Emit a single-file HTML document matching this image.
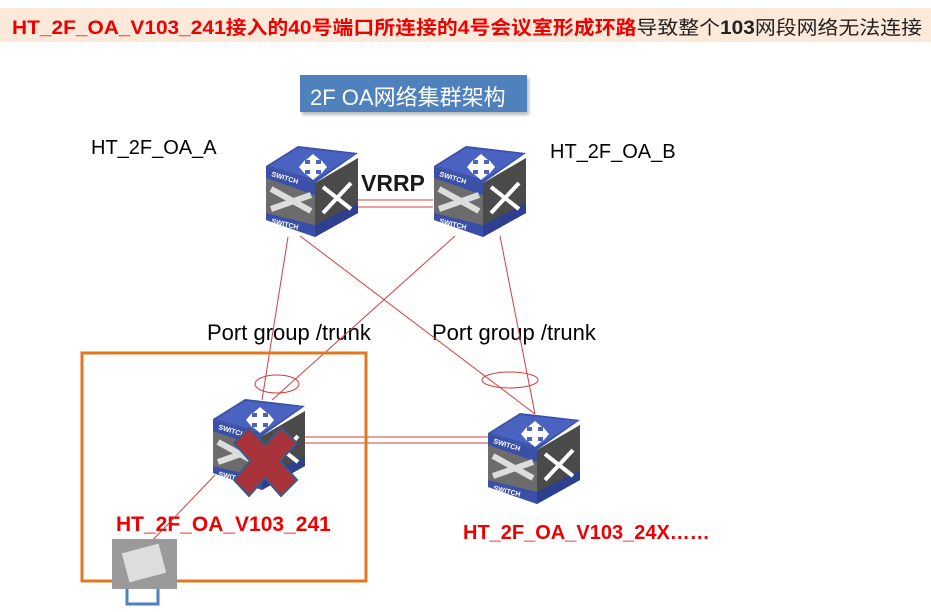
<!DOCTYPE html>
<html><head><meta charset="utf-8"><style>
body{margin:0;width:931px;height:612px;background:#fff;overflow:hidden;position:relative;font-family:"Liberation Sans","Noto Sans CJK SC",sans-serif}
.hdr{position:absolute;left:0;top:8px;width:931px;height:34px;background:#fde9d9}
#ht{position:absolute;left:12px;top:5px;font-size:19px;font-weight:bold;white-space:nowrap;transform-origin:0 0}
.t{position:absolute;white-space:nowrap}
</style></head><body>
<div class="hdr"><div id="ht"><span style="color:#e00">HT_2F_OA_V103_241接入的40号端口所连接的4号会议室形成环路</span><span style="color:#222;font-weight:normal">导致整个<b>103</b>网段网络无法连接</span></div></div>
<script>var e=document.getElementById('ht');var w=e.getBoundingClientRect().width;e.style.transform='scaleX('+(910/w)+')';</script>
<div style="position:absolute;left:300px;top:75px;width:227px;height:37px;background:#4f81bd;box-shadow:2px 3px 3px #bbb"></div>
<div class="t" style="left:310px;top:80px;color:#fff;font-size:22px">2F OA网络集群架构</div>
<div class="t" style="left:91px;top:137px;font-size:20px">HT_2F_OA_A</div>
<div class="t" style="left:550px;top:141px;font-size:20px">HT_2F_OA_B</div>
<div class="t" style="left:207px;top:320px;font-size:22px">Port group /trunk</div>
<div class="t" style="left:432px;top:320px;font-size:22px">Port group /trunk</div>
<div class="t" style="left:116px;top:513px;font-size:21px;font-weight:bold;color:#e00">HT_2F_OA_V103_241</div>
<div class="t" style="left:463px;top:522px;font-size:20px;font-weight:bold;color:#e00">HT_2F_OA_V103_24X……</div>
<svg width="931" height="612" style="position:absolute;left:0;top:0">
<defs>
<g id="sw">
<polygon points="1,21 33,1 93,8 50,38" fill="#3a4fa8"/>
<polygon points="4,21 33,3 90,9 50,35" fill="#4a63c0"/>
<path d="M48,9 l7,6 h-4 v4 h5 v-4 l6,7 -6,7 v-4 h-5 v4 h4 l-7,6 -7,-6 h4 v-4 h-5 v4 l-6,-7 6,-7 v4 h5 v-4 h-4z" fill="#fff"/>
<polygon points="1,21 50,38 50,92 1,75" fill="#6c6c6c"/>
<polygon points="1,21 50,38 50,50 1,33" fill="#3a4fa8"/>
<polygon points="1,68 50,80 50,92 1,75" fill="#3a4fa8"/>
<text x="6" y="31" font-size="7" font-weight="bold" fill="#fff" transform="rotate(17 6 31)">SWITCH</text>
<text x="6" y="78" font-size="7" font-weight="bold" fill="#fff" transform="rotate(14 6 78)">SWITCH</text>
<path d="M6,44 L46,66 M6,64 L46,50" stroke="#ddd" stroke-width="6"/>
<polygon points="50,38 93,13 93,68 50,92" fill="#4a4a4a"/>
<polygon points="50,80 93,58 93,68 50,92" fill="#2e3f90"/>
<path d="M58,68 L86,38 M58,42 L86,64" stroke="#fff" stroke-width="4"/>
</g>
</defs>
<g stroke="#d04040" stroke-width="1" fill="none">
<line x1="288" y1="237" x2="262" y2="400"/>
<line x1="300" y1="236" x2="535" y2="414"/>
<line x1="455" y1="236" x2="272" y2="400"/>
<line x1="500" y1="236" x2="535" y2="414"/>
<line x1="358" y1="200" x2="433" y2="200"/><line x1="358" y1="207" x2="433" y2="207"/>
<line x1="300" y1="437" x2="490" y2="437"/><line x1="300" y1="443" x2="490" y2="443"/>
<line x1="215" y1="475" x2="148" y2="545"/>
<ellipse cx="277" cy="384" rx="22" ry="9"/>
<ellipse cx="510" cy="380" rx="28" ry="8"/>
</g>
<use href="#sw" x="265" y="145"/>
<use href="#sw" x="433" y="145"/>
<use href="#sw" x="212" y="398"/>
<use href="#sw" x="487" y="412"/>
<text x="361" y="191" font-size="23" font-weight="bold" fill="#1a1a1a" stroke="#fff" stroke-width="3" paint-order="stroke" font-family="Liberation Sans">VRRP</text>
<polygon points="234,443 249,428 265,445 281,428 297,443 280,461 297,480 281,496 265,478 249,496 234,480 250,461" fill="#a8333a" stroke="#3a5a8a" stroke-width="2"/>
<rect x="82" y="353" width="284" height="228" fill="none" stroke="#e07820" stroke-width="3"/>
<rect x="112" y="539" width="65" height="50" fill="#9a9a9a"/>
<rect x="125" y="548" width="38" height="30" fill="#ddd" transform="rotate(-15 144 563)"/>
<path d="M127,589 V604 H158 V589" fill="none" stroke="#4f81bd" stroke-width="3"/>
</svg>
</body></html>
